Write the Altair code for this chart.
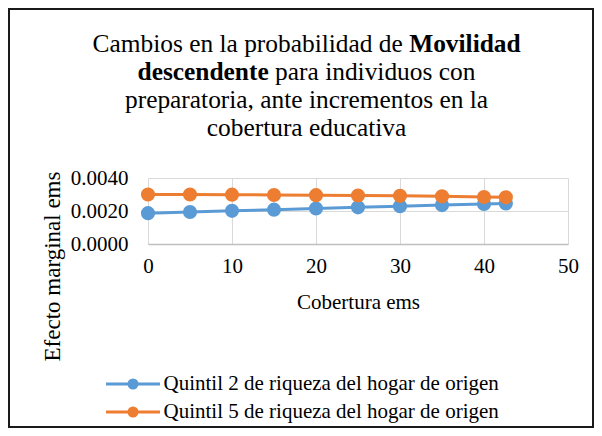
import altair as alt
import pandas as pd

# ---- data ----
cobertura = [0, 5, 10, 15, 20, 25, 30, 35, 40, 42.6]
series_names = [
    "Quintil 2 de riqueza del hogar de origen",
    "Quintil 5 de riqueza del hogar de origen",
]
quintil2 = [0.00187, 0.00194, 0.00201, 0.00208, 0.00215, 0.00222, 0.00229, 0.00236, 0.00243, 0.00246]
quintil5 = [0.00300, 0.00300, 0.00299, 0.00297, 0.00296, 0.00294, 0.00292, 0.00289, 0.00285, 0.00283]
series_colors = ["#5B9BD5", "#ED7D31"]
x_ticks = [0, 10, 20, 30, 40, 50]
y_ticks = [0.0, 0.002, 0.004]

rows = []
for name, vals in zip(series_names, [quintil2, quintil5]):
    for xv, yv in zip(cobertura, vals):
        rows.append({"cobertura": xv, "efecto": yv, "serie": name})
df = pd.DataFrame(rows)

FONT = "'Liberation Serif', 'Times New Roman', Times, serif"

x_enc = alt.X(
    "cobertura:Q",
    scale=alt.Scale(domain=[0, 50], nice=False, zero=False),
    axis=alt.Axis(
        values=x_ticks, title="Cobertura ems", grid=True, gridColor="#D9D9D9",
        gridWidth=1, ticks=False, domainColor="#BFBFBF", domainWidth=1.5,
        labelFont=FONT, labelFontSize=21, labelColor="#000000", labelPadding=11,
        labelFlush=False, labelOverlap=False,
        titleFont=FONT, titleFontSize=21, titleFontWeight="normal", titleColor="#000000",
        titleBaseline="middle", titleY=58,
    ),
)
y_enc = alt.Y(
    "efecto:Q",
    scale=alt.Scale(domain=[0, 0.004], nice=False),
    axis=alt.Axis(
        values=y_ticks, format=".4f", title="Efecto marginal ems", grid=True,
        gridColor="#D9D9D9", gridWidth=1, ticks=False, domain=False,
        labelFont=FONT, labelFontSize=21, labelColor="#000000", labelPadding=20,
        titleFont=FONT, titleFontSize=23, titleFontWeight="normal", titleColor="#000000",
        titleBaseline="middle", titleAlign="center", titleX=-96, titleY=88,
    ),
)
color_enc = alt.Color(
    "serie:N",
    scale=alt.Scale(domain=series_names, range=series_colors),
    legend=alt.Legend(
        title=None, orient="none", legendX=-43.5, legendY=192,
        symbolType="M-1,0L1,0M-0.15,0A0.15,0.15,0,1,0,0.15,0A0.15,0.15,0,1,0,-0.15,0Z",
        symbolSize=2916, symbolStrokeWidth=3, clipHeight=28, rowPadding=0,
        labelFont=FONT, labelFontSize=21, labelColor="#000000", labelOffset=2,
        labelLimit=500, padding=0, symbolOffset=0,
    ),
)

base = alt.Chart(df)
lines = base.mark_line(strokeWidth=3).encode(x=x_enc, y=y_enc, color=color_enc, detail="serie:N")
points = base.mark_point(filled=True, size=200, opacity=1, shape="circle").encode(
    x=x_enc, y=y_enc, color=color_enc
)

one = alt.Data(values=[{"k": 1}])


def txt(text, x, y, align, bold=False):
    return alt.Chart(one).mark_text(
        text=text, font=FONT, fontSize=25.4, color="#000000", align=align,
        baseline="middle", fontWeight="bold" if bold else "normal",
    ).encode(x=alt.value(x), y=alt.value(y))


title_layers = [
    txt("Cambios en la probabilidad de", 254.8, -134, "right"),
    txt("Movilidad", 261.2, -134, "left", bold=True),
    txt("descendente", 120.7, -106, "right", bold=True),
    txt("para individuos con", 127.1, -106, "left"),
    txt("preparatoria, ante incrementos en la", 158.5, -78, "center"),
    txt("cobertura educativa", 158.5, -50, "center"),
]

border = alt.Chart(one).mark_rect(filled=False, color="#1a1a1a", strokeWidth=2).encode(
    x=alt.value(-139), x2=alt.value(445), y=alt.value(-169), y2=alt.value(249)
)

chart = alt.layer(lines, points, *title_layers, border).properties(
    width=420, height=66,
    autosize=alt.AutoSizeParams(type="none"),
    padding={"left": 140, "top": 170, "right": 26, "bottom": 184},
    background="#ffffff",
).configure_view(stroke=None)

chart.save("out.html", embed_options={"renderer": "svg", "actions": False})
